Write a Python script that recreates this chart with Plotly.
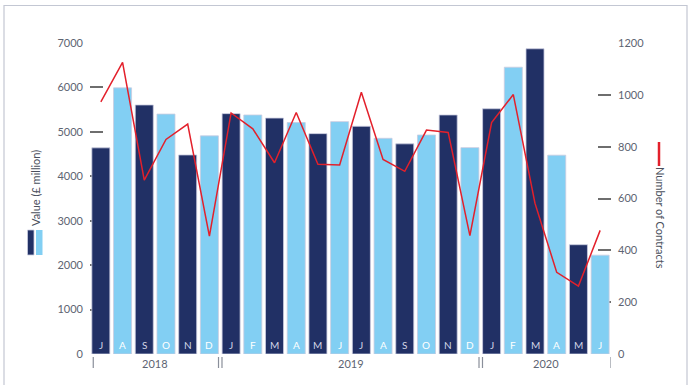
import plotly.graph_objects as go

months = ["J", "A", "S", "O", "N", "D",
          "J", "F", "M", "A", "M", "J", "J", "A", "S", "O", "N", "D",
          "J", "F", "M", "A", "M", "J"]
value_gbp_m = [4640, 5990, 5605, 5400, 4480, 4910,
               5410, 5380, 5310, 5210, 4960, 5230, 5125, 4855, 4730, 4930, 5380, 4645,
               5520, 6455, 6870, 4475, 2460, 2225]
contracts = [973, 1125, 671, 828, 887, 455,
             930, 869, 738, 932, 732, 729, 1010, 751, 705, 864, 855, 457,
             893, 1001, 581, 315, 262, 477]
years = ["2018", "2019", "2020"]
year_start_idx = [0, 6, 18]
year_end_idx = [5, 17, 23]

DARK = "#213065"
LIGHT = "#82cff3"
RED = "#e3202b"
GREY = "#5d6472"
FONT = "Lato, 'Open Sans', sans-serif"

x = list(range(len(months)))
bar_colors = [DARK if i % 2 == 0 else LIGHT for i in x]

fig = go.Figure()
fig.add_trace(go.Bar(
    x=x, y=value_gbp_m, marker=dict(color=bar_colors, line=dict(color="#c9cbe0", width=0.8)),
    yaxis="y", showlegend=False, hoverinfo="skip"))
fig.add_trace(go.Scatter(
    x=x, y=contracts, mode="lines", line=dict(color=RED, width=1.5),
    yaxis="y2", showlegend=False, hoverinfo="skip"))

# body margin is removed in the page, so figure pixels == screen pixels
W, H = 696, 385
L, T = 90, 43
R = W - 611
B = H - 354
pw, ph = W - L - R, H - T - B


def px(xpix):
    return (xpix - L) / pw


def py(ypix):
    return (H - B - ypix) / ph


annotations = []
for i, m in enumerate(months):
    annotations.append(dict(
        x=i, y=0, xref="x", yref="y", text=m, showarrow=False,
        xanchor="center", yanchor="bottom", yshift=1,
        font=dict(size=10, color="#d2d6e6" if i % 2 == 0 else "#ffffff", family=FONT)))

shapes = []
for yr, s, e in zip(years, year_start_idx, year_end_idx):
    annotations.append(dict(
        x=(s + e) / 2, y=py(363), xref="x", yref="paper", text=yr, showarrow=False,
        xanchor="center", yanchor="middle",
        font=dict(size=11, color=GREY, family=FONT)))

sep_positions = [[-0.35], [5.42, 5.58], [17.42, 17.58], [23.5]]
for group in sep_positions:
    for sx in group:
        shapes.append(dict(type="line", xref="x", yref="paper", x0=sx, x1=sx,
                           y0=py(357), y1=py(368), line=dict(color="#8a8f9a", width=1.2)))

# left axis title + swatches
annotations.append(dict(
    x=px(35), y=py(188), xref="paper", yref="paper", text="Value (£ million)",
    showarrow=False, textangle=-90, xanchor="center", yanchor="middle",
    font=dict(size=11, color="#4a4f5c", family=FONT)))
shapes.append(dict(type="rect", xref="paper", yref="paper", x0=px(27.5), x1=px(34),
                   y0=py(255), y1=py(230), fillcolor=DARK, line=dict(color="#c9cbe0", width=0.8)))
shapes.append(dict(type="rect", xref="paper", yref="paper", x0=px(36), x1=px(42.5),
                   y0=py(255), y1=py(230), fillcolor=LIGHT, line=dict(width=0)))

# right axis title + swatch
shapes.append(dict(type="line", xref="paper", yref="paper", x0=px(659), x1=px(659),
                   y0=py(142), y1=py(166), line=dict(color=RED, width=2.5)))
annotations.append(dict(
    x=px(660), y=py(218), xref="paper", yref="paper", text="Number of Contracts",
    showarrow=False, textangle=90, xanchor="center", yanchor="middle",
    font=dict(size=11, color="#4a4f5c", family=FONT)))

# frame
shapes.append(dict(type="rect", xref="paper", yref="paper", x0=px(4), x1=px(687),
                   y0=py(395), y1=py(5.5), line=dict(color="#c3c7d3", width=1.2),
                   fillcolor="rgba(0,0,0,0)", layer="below"))

fig.update_layout(
    width=W, height=H, margin=dict(l=L, r=R, t=T, b=B),
    paper_bgcolor="white", plot_bgcolor="white",
    bargap=0.17, font=dict(family=FONT, color=GREY, size=11),
    xaxis=dict(range=[-0.5, len(months) - 0.5], showticklabels=False, showgrid=False,
               zeroline=False, showline=False, ticks=""),
    yaxis=dict(range=[0, 7000], tickvals=[0, 1000, 2000, 3000, 4000, 5000, 6000, 7000],
               ticks="inside", ticklen=13, tickwidth=1.6, tickcolor="#6e6e6e",
               showgrid=False, zeroline=False, showline=False, layer="below traces",
               ticklabelstandoff=6, tickfont=dict(size=11, color=GREY)),
    yaxis2=dict(range=[0, 1200], tickvals=[0, 200, 400, 600, 800, 1000, 1200],
                overlaying="y", side="right",
                ticks="inside", ticklen=13, tickwidth=1.6, tickcolor="#6e6e6e",
                showgrid=False, zeroline=False, showline=False, layer="below traces",
                ticklabelstandoff=6, tickfont=dict(size=11, color=GREY)),
    annotations=annotations, shapes=shapes,
)

fig.write_html("out.html", config={"displayModeBar": False},
               post_script="document.body.style.margin='0';document.body.style.overflow='hidden';")
